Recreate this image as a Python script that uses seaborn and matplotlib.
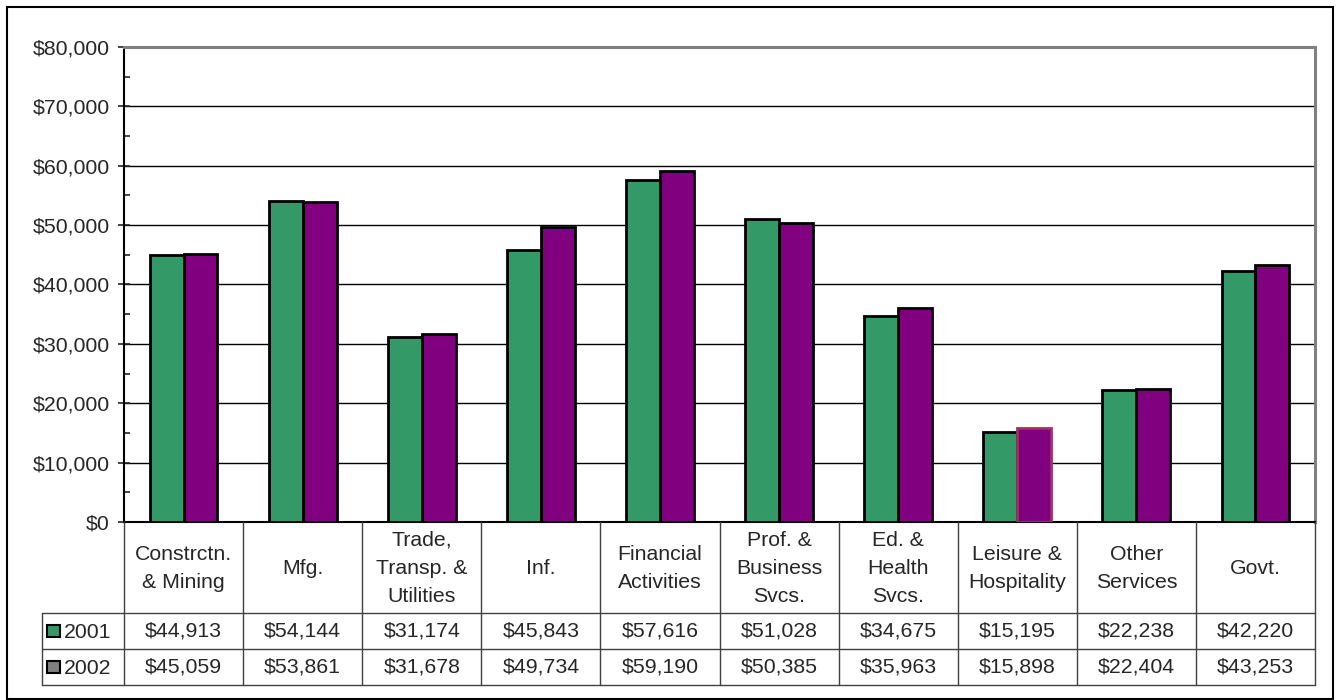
import pandas as pd
import seaborn as sns
from matplotlib import pyplot as plt
from matplotlib.patches import Rectangle
from matplotlib.ticker import FuncFormatter, MultipleLocator

# Data
categories = ["Constrctn.\n& Mining", "Mfg.", "Trade,\nTransp. &\nUtilities", "Inf.",
              "Financial\nActivities", "Prof. &\nBusiness\nSvcs.", "Ed. &\nHealth\nSvcs.",
              "Leisure &\nHospitality", "Other\nServices", "Govt."]
wages_2001 = [44913, 54144, 31174, 45843, 57616, 51028, 34675, 15195, 22238, 42220]
wages_2002 = [45059, 53861, 31678, 49734, 59190, 50385, 35963, 15898, 22404, 43253]
years = ["2001", "2002"]
bar_colors = ["#339966", "#800080"]
key_colors = ["#339966", "#808080"]

df = pd.DataFrame({
    "category": categories * 2,
    "year": [years[0]] * len(categories) + [years[1]] * len(categories),
    "wage": wages_2001 + wages_2002,
})

sns.set_style("white")
plt.rcParams["font.family"] = ["Liberation Sans", "DejaVu Sans"]
FS = 15.3

W, H = 1341, 700
fig = plt.figure(figsize=(W / 100, H / 100), dpi=100)

# plot area in pixels
left, right, top, bottom = 124, 1315, 47, 522
ax = fig.add_axes([left / W, 1 - bottom / H, (right - left) / W, (bottom - top) / H])

sns.barplot(data=df, x="category", y="wage", hue="year", palette=bar_colors,
            saturation=1, width=0.57, edgecolor="black", linewidth=2,
            legend=False, ax=ax, zorder=3)

# the Leisure 2002 bar has a lighter outline in the original
for p in ax.patches:
    if abs(p.get_height() - wages_2002[7]) < 1:
        p.set_edgecolor("#993366")

ax.set_xlim(-0.5, len(categories) - 0.5)
ax.set_ylim(0, 80000)
ax.yaxis.set_major_locator(MultipleLocator(10000))
ax.yaxis.set_minor_locator(MultipleLocator(5000))
ax.yaxis.set_major_formatter(FuncFormatter(lambda v, _: f"${v:,.0f}"))
ax.yaxis.grid(True, which="major", color="black", linewidth=1)
ax.set_axisbelow(True)
ax.tick_params(axis="y", which="major", direction="inout", length=8.6, width=1.2,
               pad=6, labelsize=FS, left=True)
ax.tick_params(axis="y", which="minor", direction="in", length=4.3, width=1.2, left=True)
ax.tick_params(axis="x", bottom=False, labelbottom=False)
ax.set_xlabel("")
ax.set_ylabel("")
for s in ["top", "right"]:
    ax.spines[s].set_color("#808080")
    ax.spines[s].set_linewidth(2.2)
for s in ["left", "bottom"]:
    ax.spines[s].set_color("black")
    ax.spines[s].set_linewidth(1.5)

# data table below the plot
tab_left, tab_bottom = 42, 685
unit = (right - left) / len(categories)
xmin = -0.5 - (left - tab_left) / unit
tax = fig.add_axes([tab_left / W, 1 - tab_bottom / H, (right - tab_left) / W, (tab_bottom - bottom) / H])
tax.set_xlim(xmin, len(categories) - 0.5)
tax.set_ylim(tab_bottom - bottom, 0)
tax.axis("off")

row_edges = [0, 91, 127, 163]
lc, lw = "#404040", 1
for i in range(len(categories) + 1):
    tax.plot([i - 0.5, i - 0.5], [0, row_edges[-1]], color=lc, lw=lw, clip_on=False)
for y in row_edges[1:]:
    tax.plot([xmin, len(categories) - 0.5], [y, y], color=lc, lw=lw, clip_on=False)
tax.plot([xmin, xmin], [row_edges[1], row_edges[-1]], color=lc, lw=lw, clip_on=False)

for i, cat in enumerate(categories):
    tax.text(i, (row_edges[0] + row_edges[1]) / 2 + 1, cat, ha="center", va="center",
             fontsize=FS, linespacing=1.6)

for r, (yr, vals) in enumerate(zip(years, [wages_2001, wages_2002])):
    yc = (row_edges[r + 1] + row_edges[r + 2]) / 2
    for i, v in enumerate(vals):
        tax.text(i, yc, f"${v:,}", ha="center", va="center", fontsize=FS)
    tax.add_patch(Rectangle((xmin + 5 / unit, yc - 6), 13 / unit, 12,
                            facecolor=key_colors[r], edgecolor="black", lw=1.5, clip_on=False))
    tax.text(xmin + 22 / unit, yc + 1, yr, ha="left", va="center", fontsize=FS)

# outer chart border
fig.add_artist(Rectangle((7 / W, 1 - 699 / H), (1333 - 7) / W, (699 - 7) / H,
                         transform=fig.transFigure, fill=False, edgecolor="black", lw=1.5))

fig.savefig("out.png", dpi=100)
